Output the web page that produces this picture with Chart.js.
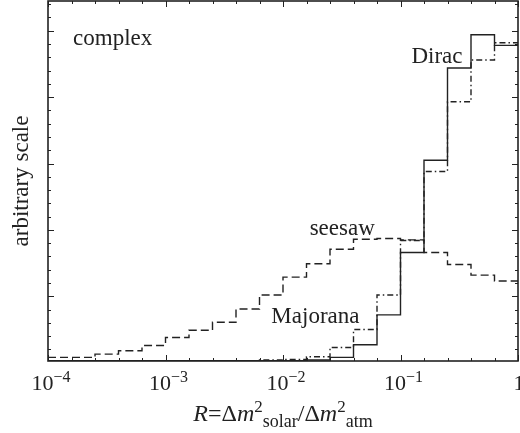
<!DOCTYPE html>
<html lang="en">
<head>
    <meta charset="UTF-8">
    <title>R distribution</title>
    <script src="https://cdn.jsdelivr.net/npm/chart.js"></script>
    <style>
        body { margin: 0; background: #fff; }
    </style>
</head>
<body>
    <canvas id="grafico" width="520" height="433"></canvas>
<script>
// bin edges in log10(R), 5 bins per decade
const binEdgesLog = [-4, -3.8, -3.6, -3.4, -3.2, -3, -2.8, -2.6, -2.4, -2.2, -2,
    -1.8, -1.6, -1.4, -1.2, -1, -0.8, -0.6, -0.4, -0.2, 0];

// histogram heights (arbitrary scale), one per bin
const diracValues = [0.03, 0.03, 0.03, 0.03, 0.03, 0.03, 0.03, 0.03, 0.03, 0.03,
    0.03, 0.04, 0.08, 0.27, 0.72, 1.66, 3.05, 4.44, 4.94, 4.78];
const majoranaValues = [0.03, 0.03, 0.03, 0.03, 0.03, 0.03, 0.03, 0.03, 0.03, 0.04,
    0.05, 0.09, 0.23, 0.50, 1.02, 1.84, 2.88, 3.93, 4.56, 4.82];
const seesawValues = [0.08, 0.08, 0.13, 0.18, 0.26, 0.38, 0.49, 0.61, 0.81, 1.02,
    1.29, 1.49, 1.71, 1.86, 1.87, 1.85, 1.66, 1.48, 1.32, 1.23];

const decadeLog = [-4, -3, -2, -1, 0];
const yMajorTicks = [1, 2, 3, 4, 5];

const serif = '"Liberation Serif", "DejaVu Serif", serif';
const ink = '#222';

function toSteps(values) {
    return binEdgesLog.map((e, i) => ({ x: Math.pow(10, e), y: values[Math.min(i, values.length - 1)] }));
}

// draws a piece of text made of parts [text, size, dy, italic]
function drawParts(ctx, parts, x, y, align) {
    let total = 0;
    const widths = parts.map(p => {
        ctx.font = (p[3] ? 'italic ' : '') + p[1] + 'px ' + serif;
        const w = ctx.measureText(p[0]).width;
        total += w;
        return w;
    });
    let cx = align === 'center' ? x - total / 2 : x;
    ctx.textAlign = 'left';
    ctx.textBaseline = 'alphabetic';
    parts.forEach((p, i) => {
        ctx.font = (p[3] ? 'italic ' : '') + p[1] + 'px ' + serif;
        ctx.fillText(p[0], cx, y + p[2]);
        cx += widths[i];
    });
}

const decor = {
    id: 'decor',
    afterDraw(chart) {
        const ctx = chart.ctx;
        const a = chart.chartArea;
        const x = chart.scales.x;
        const y = chart.scales.y;
        ctx.save();
        ctx.strokeStyle = ink;
        ctx.fillStyle = ink;

        // inward ticks on all four sides
        ctx.lineWidth = 1;
        ctx.beginPath();
        binEdgesLog.forEach(e => {
            const px = Math.round(x.getPixelForValue(Math.pow(10, e))) + 0.5;
            const len = decadeLog.includes(e) ? 6 : 3;
            ctx.moveTo(px, a.bottom); ctx.lineTo(px, a.bottom - len);
            ctx.moveTo(px, a.top); ctx.lineTo(px, a.top + len);
        });
        for (let k = 1; k <= 27; k++) {
            const v = k * 0.2;
            const py = Math.round(y.getPixelForValue(v)) + 0.5;
            if (py < a.top + 2) continue;
            const len = yMajorTicks.some(t => Math.abs(t - v) < 1e-6) ? 6 : 3;
            ctx.moveTo(a.left, py); ctx.lineTo(a.left + len, py);
            ctx.moveTo(a.right, py); ctx.lineTo(a.right - len, py);
        }
        ctx.stroke();

        // frame
        ctx.lineWidth = 1.6;
        ctx.strokeRect(a.left, a.top, a.right - a.left, a.bottom - a.top);

        // x tick labels
        decadeLog.forEach(e => {
            const px = x.getPixelForValue(Math.pow(10, e)) + 3;
            if (e === 0) {
                drawParts(ctx, [['1', 22, 0]], px - 2, 390, 'center');
            } else {
                drawParts(ctx, [['10', 22, 0], ['\u2212' + (-e), 16, -8]], px, 390, 'center');
            }
        });

        // axis titles
        drawParts(ctx, [['R', 24, 0, true], ['=\u0394', 24, 0], ['m', 24, 0, true], ['2', 17, -9],
            ['solar', 18, 6], ['/\u0394', 24, 0], ['m', 24, 0, true], ['2', 17, -9], ['atm', 18, 6]],
            (a.left + a.right) / 2, 421, 'center');

        ctx.save();
        ctx.translate(28, (a.top + a.bottom) / 2);
        ctx.rotate(-Math.PI / 2);
        drawParts(ctx, [['arbitrary scale', 23, 0]], 0, 0, 'center');
        ctx.restore();

        // curve labels, placed in data coordinates
        const notes = [
            ['complex', -3.787, 4.79],
            ['Dirac', -0.907, 4.51],
            ['seesaw', -1.773, 1.93],
            ['Majorana', -2.099, 0.60]
        ];
        notes.forEach(n => {
            drawParts(ctx, [[n[0], 23, 0]], x.getPixelForValue(Math.pow(10, n[1])), y.getPixelForValue(n[2]), 'left');
        });
        ctx.restore();
    }
};

new Chart(document.getElementById('grafico'), {
    type: 'line',
    data: {
        datasets: [
            {
                label: 'Dirac',
                data: toSteps(diracValues),
                stepped: true,
                borderColor: ink,
                borderWidth: 1.4
            },
            {
                label: 'Majorana',
                data: toSteps(majoranaValues),
                stepped: true,
                borderColor: ink,
                borderWidth: 1.4,
                borderDash: [6, 3, 1.5, 3]
            },
            {
                label: 'seesaw',
                data: toSteps(seesawValues),
                stepped: true,
                borderColor: ink,
                borderWidth: 1.4,
                borderDash: [8, 4]
            }
        ]
    },
    options: {
        responsive: false,
        animation: false,
        layout: { padding: { top: 1, right: 2, left: 0, bottom: 0 } },
        elements: { point: { radius: 0 } },
        plugins: {
            legend: { display: false },
            tooltip: { enabled: false }
        },
        scales: {
            x: {
                type: 'logarithmic',
                min: 1e-4,
                max: 1,
                grid: { display: false },
                border: { display: false },
                ticks: { display: false },
                afterFit(scale) { scale.height = 72; }
            },
            y: {
                min: 0.026,
                max: 5.448,
                grid: { display: false },
                border: { display: false },
                ticks: { display: false },
                afterFit(scale) { scale.width = 48; }
            }
        }
    },
    plugins: [decor]
});
</script>
</body>
</html>
